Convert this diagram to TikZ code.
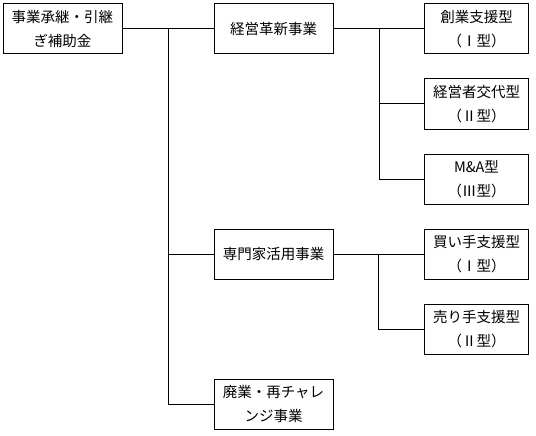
\documentclass[tikz,border=0pt]{standalone}
\usepackage{fontspec}
\setmainfont{Noto Sans CJK JP}
\begin{document}
\begin{tikzpicture}[x=1pt,y=-1pt,
  box/.style={draw,line width=1pt,align=center,inner sep=0pt,
    font=\fontsize{14.5}{24}\selectfont},
  wbox/.style={box,minimum width=119pt,minimum height=50pt},
  nbox/.style={box,minimum width=104.5pt,minimum height=50pt},
  conn/.style={line width=1pt}]
\useasboundingbox (0,0) rectangle (536,436);
\node[wbox] (root) at (62.5,29) {事業承継・引継\\ぎ補助金};
\node[wbox] (A) at (273.5,29) {経営革新事業};
\node[wbox] (B) at (273.5,254) {専門家活用事業};
\node[wbox] (C) at (273.5,404) {廃業・再チャレ\\ンジ事業};
\node[nbox] (A1) at (476.5,29) {創業支援型\\（Ⅰ型）};
\node[nbox] (A2) at (476.5,104) {経営者交代型\\（Ⅱ型）};
\node[nbox] (A3) at (476.5,179) {M\&A型\\（Ⅲ型）};
\node[nbox] (B1) at (476.5,254) {買い手支援型\\（Ⅰ型）};
\node[nbox] (B2) at (476.5,329) {売り手支援型\\（Ⅱ型）};
\coordinate (t) at (168.5,29);
\coordinate (ta) at (379,29);
\coordinate (tb) at (378.5,254);
\draw[conn] (root.east) -- (A.west);
\draw[conn] (t) |- (B.west);
\draw[conn] (t) |- (C.west);
\draw[conn] (A.east) -- (A1.west);
\draw[conn] (ta) |- (A2.west);
\draw[conn] (ta) |- (A3.west);
\draw[conn] (B.east) -- (B1.west);
\draw[conn] (tb) |- (B2.west);
\end{tikzpicture}
\end{document}
